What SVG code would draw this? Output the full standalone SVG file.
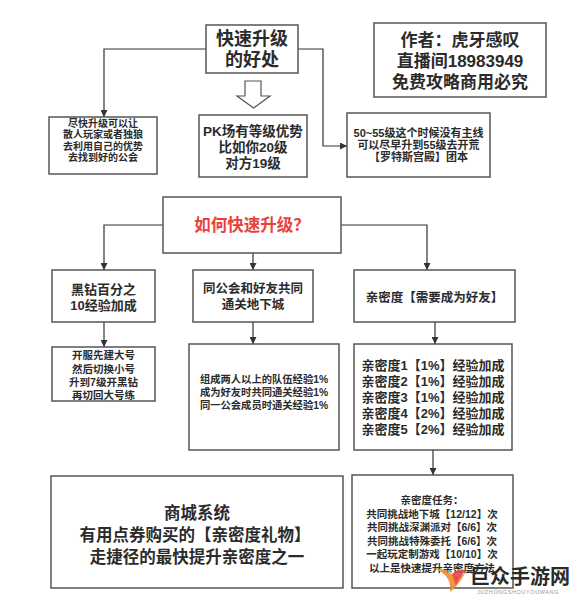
<svg xmlns="http://www.w3.org/2000/svg" width="578" height="596" viewBox="0 0 578 596">
<defs>
<style>
.box{fill:#fff;stroke:#555;stroke-width:1.5}
.t{font-family:"Liberation Sans","Noto Sans CJK SC",sans-serif;font-weight:700;fill:#2b2b2b;text-anchor:middle;dominant-baseline:central}
.c{fill:none;stroke:#333;stroke-width:1.2}
</style>
<marker id="ah" viewBox="0 0 10 10" refX="10" refY="5" markerWidth="7" markerHeight="7" markerUnits="userSpaceOnUse" orient="auto"><path d="M0,0 L10,5 L0,10 z" fill="#333"/></marker>
</defs>
<rect width="578" height="596" fill="#fff"/>

<g id="connectors">
<path class="c" d="M206,49 H104 V117" marker-end="url(#ah)"/>
<path class="c" d="M298,49 H323 V146 H347" marker-end="url(#ah)"/>
<path class="c" d="M163,225 H104 V270" marker-end="url(#ah)"/>
<path class="c" d="M253,253 V270" marker-end="url(#ah)"/>
<path class="c" d="M341,225 H427 V270" marker-end="url(#ah)"/>
<path class="c" d="M104,322 V347" marker-end="url(#ah)"/>
<path class="c" d="M253,322 V344" marker-end="url(#ah)"/>
<path class="c" d="M435,322 V344" marker-end="url(#ah)"/>
<path class="c" d="M433,450 V475" marker-end="url(#ah)"/>
</g>

<g id="benefits">
<rect class="box" x="206" y="25" width="92" height="48"/>
<text class="t" x="252" y="39" font-size="18">快速升级</text>
<text class="t" x="252" y="60" font-size="18">的好处</text>
</g>

<g id="author">
<rect class="box" x="374" y="23" width="172" height="74"/>
<text class="t" x="460" y="40" font-size="17">作者：虎牙感叹</text>
<text class="t" x="460" y="61" font-size="17">直播间18983949</text>
<text class="t" x="460" y="82" font-size="17">免费攻略商用必究</text>
</g>

<g id="hollow-arrow">
<path d="M245,81 H261 V96 H270 L253.5,108 L237,96 H245 Z" fill="#fff" stroke="#555" stroke-width="1.2"/>
</g>

<g id="guild">
<rect class="box" x="49" y="117" width="108" height="57"/>
<text class="t" x="103" y="123" font-size="10">尽快升级可以让</text>
<text class="t" x="103" y="134.5" font-size="10">散人玩家或者独狼</text>
<text class="t" x="103" y="146" font-size="10">去利用自己的优势</text>
<text class="t" x="103" y="157.5" font-size="10">去找到好的公会</text>
</g>

<g id="pk">
<rect class="box" x="199" y="115" width="108" height="62"/>
<text class="t" x="253" y="131" font-size="13.5">PK场有等级优势</text>
<text class="t" x="253" y="147" font-size="13.5">比如你20级</text>
<text class="t" x="253" y="163" font-size="13.5">对方19级</text>
</g>

<g id="raid">
<rect class="box" x="347" y="113" width="143" height="64"/>
<text class="t" x="418.5" y="133" font-size="11">50~55级这个时候没有主线</text>
<text class="t" x="418.5" y="145" font-size="11">可以尽早升到55级去开荒</text>
<text class="t" x="418.5" y="157" font-size="11">【罗特斯宫殿】团本</text>
</g>

<g id="how">
<rect class="box" x="163" y="197" width="178" height="56"/>
<text class="t" x="252" y="225" font-size="16.5" style="fill:#e8413c">如何快速升级？</text>
</g>

<g id="black-diamond">
<rect class="box" x="52" y="270" width="103" height="52"/>
<text class="t" x="103.5" y="289" font-size="13">黑钻百分之</text>
<text class="t" x="103.5" y="305" font-size="13">10经验加成</text>
</g>

<g id="dungeon">
<rect class="box" x="193" y="270" width="120" height="52"/>
<text class="t" x="253" y="289" font-size="12.5">同公会和好友共同</text>
<text class="t" x="253" y="305" font-size="12.5">通关地下城</text>
</g>

<g id="intimacy">
<rect class="box" x="354" y="270" width="161" height="52"/>
<text class="t" x="434.5" y="298" font-size="12.5">亲密度【需要成为好友】</text>
</g>

<g id="alt-account">
<rect class="box" x="52" y="347" width="103" height="54"/>
<text class="t" x="103.5" y="355" font-size="10.5">开服先建大号</text>
<text class="t" x="103.5" y="368.5" font-size="10.5">然后切换小号</text>
<text class="t" x="103.5" y="381.5" font-size="10.5">升到7级开黑钻</text>
<text class="t" x="103.5" y="395" font-size="10.5">再切回大号练</text>
</g>

<g id="party-exp">
<rect class="box" x="189" y="344" width="150" height="106"/>
<text class="t" x="264" y="379" font-size="10.3">组成两人以上的队伍经验1%</text>
<text class="t" x="264" y="392" font-size="10.3">成为好友时共同通关经验1%</text>
<text class="t" x="264" y="405" font-size="10.3">同一公会成员时通关经验1%</text>
</g>

<g id="intimacy-levels">
<rect class="box" x="354" y="344" width="158" height="106"/>
<text class="t" x="433" y="365" font-size="13">亲密度1【1%】经验加成</text>
<text class="t" x="433" y="381" font-size="13">亲密度2【1%】经验加成</text>
<text class="t" x="433" y="397" font-size="13">亲密度3【1%】经验加成</text>
<text class="t" x="433" y="413" font-size="13">亲密度4【2%】经验加成</text>
<text class="t" x="433" y="429" font-size="13">亲密度5【2%】经验加成</text>
</g>

<g id="shop">
<rect class="box" x="51" y="476" width="292" height="112"/>
<text class="t" x="197" y="513" font-size="16.5">商城系统</text>
<text class="t" x="195" y="535" font-size="16.5">有用点券购买的【亲密度礼物】</text>
<text class="t" x="197" y="557" font-size="16.5">走捷径的最快提升亲密度之一</text>
</g>

<g id="intimacy-tasks">
<rect class="box" x="352" y="475" width="161" height="113"/>
<text class="t" x="432" y="500" font-size="10.5">亲密度任务：</text>
<text class="t" x="432" y="513.5" font-size="10.5">共同挑战地下城【12/12】次</text>
<text class="t" x="432" y="527" font-size="10.5">共同挑战深渊派对【6/6】次</text>
<text class="t" x="432" y="540.5" font-size="10.5">共同挑战特殊委托【6/6】次</text>
<text class="t" x="432" y="554" font-size="10.5">一起玩定制游戏【10/10】次</text>
<text class="t" x="432" y="567.5" font-size="10.5">以上是快速提升亲密度方法</text>
</g>

<g id="watermark">
<path d="M433,568 C445,572 452,580 450,592 C458,586 462,578 466,572 C460,578 452,576 446,570 Z" fill="#f28a2e" opacity="0.9"/>
<path d="M452,574 C456,570 462,568 466,571 C462,574 458,580 456,586 Z" fill="#e5484d" opacity="0.9"/>
<text x="520" y="575" font-family="'Noto Sans CJK SC',sans-serif" font-weight="700" font-size="20" fill="#2a2a2a" text-anchor="middle" dominant-baseline="central">巨众手游网</text>
<text x="518" y="591.5" font-family="'Liberation Sans',sans-serif" font-size="5.5" fill="#999" text-anchor="middle" dominant-baseline="central" letter-spacing="0.6">JUZHONGSHOUYOUWANG</text>
</g>
</svg>
